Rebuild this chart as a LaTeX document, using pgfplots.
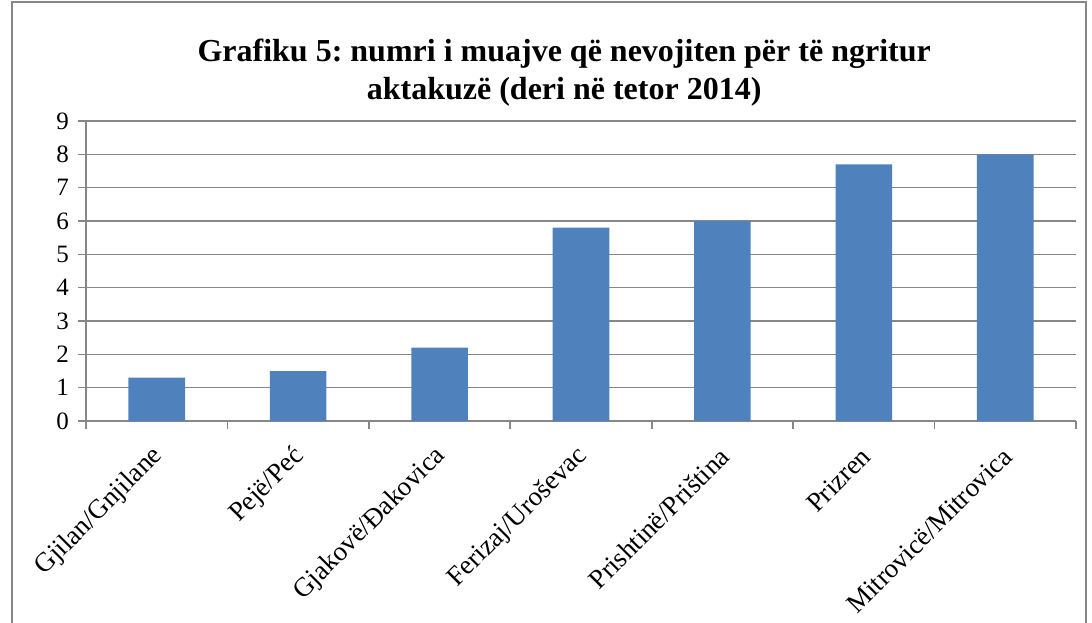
\documentclass[border=0pt]{standalone}
\usepackage{pgfplots}
\pgfplotsset{compat=1.18}
\usepackage{fontspec}
\setmainfont{Liberation Serif}
\frenchspacing
\definecolor{barblue}{HTML}{4F81BD}
\definecolor{axgray}{HTML}{878787}
\begin{document}
\begin{tikzpicture}
\useasboundingbox (-43pt,-100.5pt) rectangle (503pt,210.5pt);
\draw[axgray, line width=0.8pt] (-37pt,-110pt) rectangle (500pt,209.5pt);
\begin{axis}[
    at={(0,0)}, anchor=south west,
    scale only axis, width=495pt, height=150pt,
    ybar, bar width=28.3pt,
    xmin=-0.5, xmax=6.5, ymin=0, ymax=9,
    xtick={0,...,6},
    xticklabels={Gjilan/Gnjilane, Pejë/Peć, Gjakovë/Đakovica, Ferizaj/Uroševac, Prishtinë/Priština, Prizren, Mitrovicë/Mitrovica},
    major x tick style={draw=none},
    minor xtick={-0.5,0.5,...,6.5},
    ytick={0,...,9},
    tick align=outside,
    major tick length=4pt, minor tick length=4pt,
    every tick/.style={axgray, line width=0.8pt},
    axis x line*=bottom, axis y line*=left,
    axis line style={axgray, line width=0.8pt, -},
    ymajorgrids, grid style={axgray, line width=0.8pt},
    tick label style={font=\fontsize{12.5}{14}\selectfont, /pgf/number format/assume math mode=true},
    x tick label style={font=\fontsize{13.5}{15}\selectfont, rotate=45, anchor=east, yshift=-9pt, xshift=-4pt},
    y tick label style={xshift=-1pt},
    title={Grafiku 5: numri i muajve që nevojiten për të ngritur\\aktakuzë (deri në tetor 2014)},
    title style={font=\bfseries\fontsize{16}{19}\selectfont, align=center, at={(rel axis cs:0.483,1)}, anchor=south, yshift=-2pt},
]
\addplot[fill=barblue, draw=none] coordinates {(0,1.3) (1,1.5) (2,2.2) (3,5.8) (4,6.0) (5,7.7) (6,8.0)};
\end{axis}
\end{tikzpicture}
\end{document}
